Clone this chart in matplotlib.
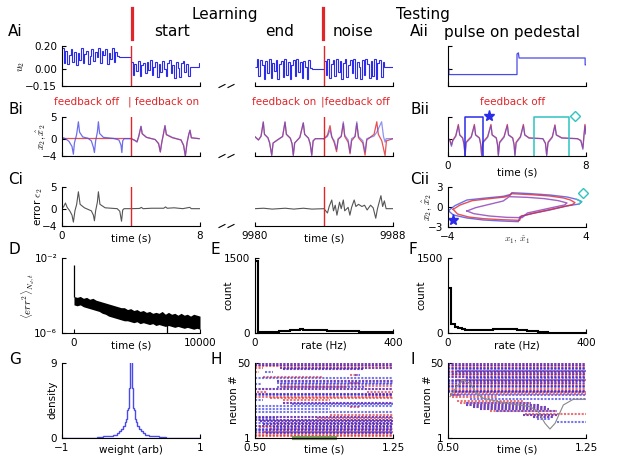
import numpy as np
import matplotlib
matplotlib.use("Agg")
import matplotlib.pyplot as plt
from matplotlib.lines import Line2D

plt.rcParams["font.family"] = "DejaVu Sans"
plt.rcParams["mathtext.fontset"] = "cm"

W, H = 617, 462
RED = "#e0262a"
BLUE = "#2b2be8"
LBLUE = "#4a4ae8"
CYAN = "#2ec4c0"
GRAY = "#555555"

# ---------------- data ----------------
# Ai: control input u2, piecewise constant noise (dt = 0.1 s)
NOISE_DT = 0.1
ai_start_fboff = [0.18, 0.05, 0.16, 0.04, 0.12, 0.17, 0.06, 0.15, 0.03, 0.14, 0.08,
                  0.18, 0.05, 0.13, 0.16, 0.04, 0.11, 0.17, 0.07, 0.15, 0.10, 0.18,
                  0.05, 0.16, 0.12, 0.17, 0.04, 0.14, 0.09, 0.18, 0.06, 0.15, 0.11]
ai_start_fbon = [0.06, -0.05, 0.04, -0.02, 0.07, -0.06, 0.03, 0.05, -0.04, 0.06, -0.01,
                 0.08, -0.05, 0.02, 0.06, -0.07, 0.04, -0.03, 0.07, 0.00, -0.06, 0.05,
                 0.08, -0.04, 0.03, -0.08, 0.06, 0.01, -0.07, 0.05, 0.07, -0.03, 0.04,
                 -0.06, 0.02]
ai_end_fbon = [0.02, 0.09, -0.06, 0.08, 0.03, -0.09, 0.07, -0.04, 0.09, -0.08, 0.05,
               -0.02, 0.08, -0.09, 0.04, 0.07, -0.07, 0.09, -0.05, 0.06, -0.09, 0.03,
               0.08, -0.06, 0.09, -0.03, 0.06, -0.08, 0.07, 0.02, -0.09, 0.08, 0.01]
ai_end_noise = [0.07, -0.05, 0.09, -0.08, 0.04, 0.08, -0.06, 0.09, -0.03, 0.07, -0.09,
                0.05, 0.09, -0.07, 0.03, 0.08, -0.04, 0.09, -0.08, 0.06, 0.02, -0.09,
                0.08, -0.05, 0.09, 0.04, -0.08, 0.07, -0.06, 0.09, -0.09, 0.05, 0.08,
                -0.07, 0.06]

# Bi: x2 (blue) and network estimate (red), keypoints
bi_off_t = [0, 0.2, 0.4, 0.58, 0.66, 0.72, 0.85, 0.95, 1.02, 1.2, 1.5, 1.7, 1.82, 1.88,
            1.95, 2.05, 2.11, 2.18, 2.4, 3.0, 3.3, 3.42, 3.47, 3.52, 3.6, 4.0]
bi_off_x2 = [0.3, 0.0, -0.6, -1.8, -3.6, -1.0, 1.0, 3.9, 1.5, 0.4, 0.1, -0.5, -2.0, -3.2,
             -0.5, 1.5, 3.9, 1.2, 0.3, 0.05, -0.3, -1.5, -3.2, -0.5, 0.0, 0.0]
bi_off_hat_t = [0, 4.0]
bi_off_hat = [0.1, 0.1]
bi_on_t = [4.0, 4.2, 4.35, 4.45, 4.58, 4.65, 4.9, 5.4, 5.6, 5.7, 5.78, 5.88, 5.97, 6.05,
           6.4, 6.9, 7.05, 7.15, 7.25, 7.35, 7.42, 7.5, 7.95]
bi_on_x2 = [0.0, -0.4, -0.8, 0.5, 2.9, 1.2, 0.3, -0.2, -1.2, -3.0, -1.0, 1.0, 3.0, 1.0,
            0.3, -0.3, -1.5, -4.1, -1.0, 1.0, 2.0, 0.2, 0.0]
bi_on_hat = [0.0, -0.3, -0.7, 0.6, 2.8, 1.1, 0.3, -0.2, -1.1, -3.1, -0.9, 1.1, 3.0, 0.9,
             0.2, -0.3, -1.6, -4.0, -0.9, 1.0, 1.9, 0.2, 0.0]
bi_end_t = [9980.0, 9980.2, 9980.35, 9980.48, 9980.55, 9980.75, 9980.85, 9980.97,
            9981.05, 9981.3, 9981.6, 9981.74, 9981.82, 9982.05, 9982.15, 9982.22,
            9982.3, 9982.6, 9982.8, 9982.88, 9983.1, 9983.2, 9983.29, 9983.37, 9983.5,
            9984.0]
bi_end_x2 = [0.5, -0.3, 0.5, 3.9, 1.0, 0.2, -1.0, -3.9, -1.0, -0.3, 0.5, 3.9, 1.0, 0.1,
             -1.2, -3.9, -1.0, 0.3, 3.7, 1.0, 0.1, -1.2, -3.9, -0.5, 0.0, 0.0]
bi_end_hat = [0.4, -0.3, 0.6, 3.8, 1.0, 0.2, -1.0, -3.8, -1.0, -0.3, 0.5, 3.8, 1.0, 0.1,
              -1.2, -3.8, -1.0, 0.3, 3.6, 1.0, 0.1, -1.2, -3.8, -0.5, 0.0, 0.0]
bi_noise_t = [9984.0, 9984.2, 9984.35, 9984.45, 9984.6, 9984.73, 9984.82, 9985.0,
              9985.12, 9985.2, 9985.4, 9985.51, 9985.6, 9985.8, 9985.9, 9986.0, 9986.25,
              9986.38, 9986.48, 9986.9, 9987.06, 9987.34, 9987.45, 9987.54, 9987.6, 9988.0]
bi_noise_x2 = [0.0, 0.5, 2.0, 0.3, -0.5, -2.5, 0.0, 0.6, 3.9, 0.8, -0.3, -3.2, 0.0, 0.5,
               3.9, 0.5, -0.5, -3.0, 0.0, 0.6, 1.5, 3.9, 0.5, -0.8, 0.0, 0.0]
bi_noise_hat_t = [9984.0, 9984.2, 9984.35, 9984.45, 9984.6, 9984.73, 9984.82, 9985.0,
                  9985.12, 9985.2, 9985.4, 9985.51, 9985.6, 9985.8, 9985.9, 9986.0,
                  9986.25, 9986.38, 9986.48, 9986.9, 9987.06, 9987.15, 9987.35, 9987.54,
                  9987.62, 9988.0]
bi_noise_hat = [0.0, 0.8, 3.0, 0.5, -1.0, -3.0, -0.2, 0.5, 3.5, 0.5, -0.8, -3.5, -0.5,
                0.5, 3.5, 0.2, -1.0, -3.8, -0.3, 1.0, 3.9, 1.0, -0.5, -3.9, -0.5, 0.0]

# Ci: error e2
ci_start_t = [0, 0.1, 0.2, 0.3, 0.45, 0.58, 0.66, 0.75, 0.85, 0.95, 1.05, 1.3, 1.7, 1.82,
              1.88, 1.95, 2.05, 2.11, 2.2, 2.5, 3.2, 3.35, 3.45, 3.52, 3.6, 4.0, 4.5, 4.6,
              4.7, 5.2, 5.9, 6.0, 6.1, 6.5, 7.0, 7.4, 7.5, 8.0]
ci_start_e = [0, 0.5, 1.3, 0.3, -0.5, -1.5, -3.1, -0.5, 1.0, 3.9, 1.0, 0.2, -0.5, -1.5,
              -2.8, -0.5, 1.5, 3.9, 1.0, 0.2, 0.0, -0.6, -2.9, -0.3, 0, 0, 0.05, 0.3, 0,
              0.1, 0.1, 0.4, 0.1, 0.2, 0.0, 0.3, 0.0, 0.0]
ci_end_t = [9980.0, 9980.5, 9981.0, 9981.75, 9982.25, 9982.8, 9983.3, 9984.0, 9984.2,
            9984.3, 9984.45, 9984.55, 9984.65, 9984.75, 9984.9, 9985.0, 9985.12, 9985.2,
            9985.4, 9985.5, 9985.6, 9985.75, 9985.85, 9986.0, 9986.2, 9986.35, 9986.5,
            9986.7, 9986.85, 9987.0, 9987.1, 9987.3, 9987.4, 9987.5, 9987.6, 9988.0]
ci_end_e = [0.0, 0.1, -0.1, 0.1, -0.1, 0.1, -0.1, 0.0, -1.0, 0.5, 2.0, -0.5, 0.8, -1.5,
            1.5, 0.0, 2.0, -0.5, 0.3, -1.5, 0.3, 2.0, 0.5, 1.0, 0.5, 0.8, -0.3, 0.8, 0.2,
            -2.2, 0.0, 3.0, 0.5, 1.8, 0.0, 0.0]

# Aii: pulse on pedestal
aii_t = [0, 0.05, 0.05, 4.0, 4.0, 4.08, 4.12, 7.95, 7.95, 8.0]
aii_u = [0.0, 0.0, -0.05, -0.05, 0.13, 0.14, 0.095, 0.095, 0.035, 0.035]

# Bii
bii_t = [0, 0.1, 0.2, 0.28, 0.45, 0.6, 0.68, 0.85, 0.93, 0.99, 1.05, 1.35, 1.53, 1.6,
         1.82, 1.9, 1.95, 2.02, 2.3, 2.49, 2.56, 2.8, 2.87, 2.92, 2.99, 3.25, 3.44, 3.51,
         3.75, 3.83, 3.88, 3.95, 4.2, 4.37, 4.45, 4.7, 5.5, 5.65, 5.72, 5.8, 6.05, 6.2,
         6.28, 6.6, 7.5, 7.7, 7.82, 7.88, 7.94, 8.0]
bii_x2 = [0, -0.3, -1.8, -0.5, 0.5, 3.0, 0.8, 0.1, -1.5, -4.0, -1.0, 0.3, 3.0, 0.8, 0.1,
          -1.5, -4.0, -1.0, 0.3, 3.0, 0.8, 0.1, -1.5, -4.0, -1.0, 0.3, 3.0, 0.8, 0.1,
          -1.5, -4.0, -1.0, 0.3, 3.0, 0.8, 0.1, 0.0, -1.2, -3.9, -1.0, 0.3, 3.0, 0.8, 0.1,
          0.0, -0.5, -2.5, 0.5, 3.0, 1.0]
bii_hat = [0, -0.2, -1.5, -0.3, 0.7, 3.3, 0.9, 0.2, -1.3, -3.8, -0.8, 0.5, 3.3, 0.9, 0.2,
           -1.3, -3.8, -0.8, 0.5, 3.3, 0.9, 0.2, -1.3, -3.8, -0.8, 0.5, 3.3, 0.9, 0.2,
           -1.3, -3.8, -0.8, 0.5, 3.3, 0.9, 0.2, 0.0, -1.0, -3.8, -0.8, 0.5, 3.2, 0.9, 0.2,
           0.0, -0.4, -2.2, 0.7, 3.3, 1.2]
pulse_blue_t = [1.0, 1.0, 2.0, 2.0]
pulse_cyan_t = [5.0, 5.0, 7.0, 7.0]
pulse_y = [-4, 5, 5, -4]
star_pt = (2.4, 5.3)
diamond_pt = (7.35, 5.2)

# Cii: phase plane loops
cii_outer_x1 = [-3.98, -3.6, -2.9, -1.8, -0.8, -0.35, -0.3, 0.8, 1.9, 2.9, 3.46, 3.75,
                3.6, 2.88, 1.9, 0.95, 0.17, 0.08, -0.9, -1.95, -2.9, -3.69, -3.98]
cii_outer_x2 = [-0.55, 0.2, 1.05, 1.35, 1.6, 1.9, 2.15, 2.0, 1.8, 1.5, 1.15, 0.8, 0.45,
                0.15, -0.45, -0.95, -1.45, -2.2, -2.1, -1.95, -1.65, -1.2, -0.55]
cii_red_x1 = [-3.7, -3.3, -2.6, -1.6, -0.7, -0.4, -0.35, 0.8, 1.9, 2.7, 3.1, 3.36, 3.2,
              2.6, 1.7, 0.9, 0.25, 0.15, -0.9, -1.95, -2.8, -3.45, -3.7]
cii_red_x2 = [-0.35, 0.3, 0.95, 1.25, 1.5, 1.75, 2.0, 1.85, 1.65, 1.35, 1.05, 0.65, 0.35,
              0.0, -0.5, -0.95, -1.35, -2.0, -1.9, -1.75, -1.5, -1.05, -0.35]
cii_inner_x1 = [-2.9, -2.4, -1.6, -0.8, -0.45, 0.6, 1.6, 2.4, 2.9, 2.75, 2.2, 1.4, 0.6,
                0.3, -0.6, -1.6, -2.5, -2.9]
cii_inner_x2 = [-0.6, -0.1, 0.4, 0.9, 1.55, 1.45, 1.25, 0.95, 0.6, 0.3, 0.0, -0.45, -0.9,
                -1.6, -1.55, -1.35, -1.0, -0.6]
cii_cyan_x1 = [3.46, 3.75, 3.6]
cii_cyan_x2 = [1.15, 0.8, 0.45]
cii_star = (-3.7, -1.95)
cii_diamond = (3.85, 2.1)

# D: mean squared error (log10) during learning, envelope of the noisy trace
d_t = np.linspace(0, 10000, 41)
d_upper = [-4.05, -4.1, -4.05, -4.15, -4.1, -4.2, -4.15, -4.25, -4.3, -4.35, -4.4, -4.45,
           -4.5, -4.55, -4.6, -4.65, -4.65, -4.75, -4.7, -4.8, -4.75, -4.85, -4.8, -4.9,
           -4.85, -4.95, -4.9, -4.95, -4.85, -5.0, -4.9, -5.0, -4.95, -5.05, -4.95, -5.05,
           -5.0, -5.1, -5.0, -5.05, -5.1]
d_lower = [-4.5, -4.55, -4.5, -4.6, -4.65, -4.7, -4.75, -4.8, -4.85, -4.95, -5.0, -5.1,
           -5.15, -5.2, -5.25, -5.3, -5.35, -5.35, -5.4, -5.45, -5.4, -5.5, -5.45, -5.5,
           -5.55, -5.5, -5.6, -5.55, -5.6, -5.65, -5.6, -5.65, -5.7, -5.65, -5.7, -5.75,
           -5.7, -5.75, -5.8, -5.75, -5.8]
d_spike_t = [0, 7350]
d_spike_lo = [-4.1, -6.0]
d_spike_hi = [-2.37, -5.3]

# E, F: firing-rate histograms (10 Hz bins)
rate_edges = np.linspace(0, 400, 41)
e_counts = [1440, 20, 15, 15, 18, 22, 28, 35, 42, 50, 58, 65, 70, 72, 70, 68, 65, 62, 58,
            55, 52, 50, 48, 45, 43, 40, 38, 36, 34, 32, 30, 28, 26, 24, 22, 20, 18, 16,
            14, 12]
f_counts = [893, 173, 127, 93, 73, 62, 55, 52, 55, 58, 62, 66, 70, 74, 78, 82, 84, 82, 78,
            74, 70, 64, 56, 48, 40, 32, 25, 18, 12, 8, 5, 3, 2, 1, 0, 0, 0, 0, 0, 0]

# G: weight distribution
g_edges = [-1.0, -0.8, -0.6, -0.5, -0.4, -0.32, -0.26, -0.21, -0.17, -0.14, -0.11, -0.09,
           -0.07, -0.055, -0.04, -0.025, -0.015, 0.015, 0.025, 0.04, 0.055, 0.07, 0.09,
           0.11, 0.14, 0.17, 0.21, 0.26, 0.32, 0.4, 0.5, 0.6, 0.8, 1.0]
g_density = [0.01, 0.03, 0.06, 0.12, 0.2, 0.3, 0.42, 0.6, 0.8, 1.05, 1.4, 1.9, 2.3, 3.4,
             3.6, 6.0, 10.0, 6.0, 3.6, 3.4, 2.3, 1.9, 1.4, 1.05, 0.8, 0.6, 0.42, 0.3, 0.2,
             0.12, 0.06, 0.03, 0.01]

# H, I: spike rasters, rows of (neuron, t_start, t_end)
h_red = [(50, 0.5, 1.25), (49, 0.5, 1.25), (48, 0.5, 1.25), (47, 0.5, 0.545),
         (47, 0.636, 1.25), (46, 0.654, 1.09), (44, 0.5, 0.52), (42, 1.016, 1.062),
         (41, 0.545, 0.871), (38, 0.618, 1.25), (37, 1.016, 1.071), (35, 0.636, 1.25),
         (34, 0.65, 1.0), (33, 0.5, 1.25), (31, 0.509, 0.563), (31, 1.107, 1.25),
         (30, 0.5, 1.25), (29, 1.1, 1.25), (28, 0.5, 1.25), (27, 0.581, 1.25),
         (26, 0.654, 0.908), (24, 0.654, 1.25), (21, 1.016, 1.071), (16, 0.908, 1.25),
         (15, 0.5, 1.25), (14, 0.835, 1.25), (13, 0.5, 1.25), (12, 0.527, 1.25),
         (11, 0.6, 1.25), (10, 0.545, 1.25), (9, 0.5, 1.25), (8, 0.52, 1.25),
         (7, 0.581, 1.25), (6, 0.5, 1.25), (5, 0.55, 1.25), (4, 0.5, 1.25),
         (3, 0.5, 1.25), (2, 0.5, 1.25)]
h_blue = [(50, 0.5, 1.25), (49, 0.5, 1.25), (47, 0.636, 1.25), (46, 0.654, 1.09),
          (44, 0.554, 0.6), (42, 1.043, 1.071), (40, 0.5, 1.25), (38, 0.618, 1.25),
          (37, 0.62, 1.25), (36, 0.5, 0.536), (36, 0.636, 1.25), (34, 0.62, 1.1),
          (33, 0.5, 1.25), (30, 0.5, 1.25), (29, 0.5, 1.25), (26, 0.5, 0.545),
          (24, 0.654, 1.25), (23, 0.7, 1.25), (22, 0.5, 1.25), (20, 0.5, 0.908),
          (18, 0.5, 1.25), (15, 0.5, 1.25), (14, 0.5, 0.618), (13, 0.5, 1.25),
          (12, 0.527, 1.25), (11, 0.5, 1.25), (10, 0.545, 1.25), (9, 0.5, 1.25),
          (8, 0.6, 1.25), (7, 0.5, 1.25), (6, 0.5, 1.25), (5, 0.5, 1.25), (4, 0.56, 1.25)]
h_stim = (0.70, 0.947)
i_red = [(50, 0.5, 1.25), (49, 0.5, 1.25), (48, 0.5, 1.25), (47, 0.5, 1.25),
         (45, 0.5, 1.25), (44, 0.5, 1.25), (43, 0.52, 1.25), (42, 0.5, 1.25),
         (41, 0.5, 1.25), (39, 0.55, 1.25), (38, 0.5, 1.25), (37, 0.56, 1.2),
         (36, 0.5, 1.25), (35, 0.5, 1.25), (33, 0.5, 1.25), (32, 0.5, 1.25),
         (31, 0.53, 1.25), (30, 0.511, 1.25), (29, 0.511, 0.565), (28, 0.52, 0.764),
         (25, 0.547, 0.909), (24, 0.565, 0.95), (22.5, 0.6, 0.999), (21, 0.638, 1.036),
         (20, 0.674, 1.05), (18.5, 0.728, 1.09), (17, 0.92, 1.253), (16, 0.909, 1.09),
         (14.5, 0.964, 1.072)]
i_blue = [(50, 0.5, 1.25), (49, 0.5, 1.25), (47, 0.5, 1.25), (46, 0.5, 1.25),
          (45, 0.55, 1.25), (44, 0.5, 1.25), (43, 0.5, 1.25), (41, 0.5, 1.25),
          (40, 0.6, 1.25), (39, 0.5, 1.25), (38, 0.5, 1.25), (37, 0.5, 1.25),
          (35, 0.5, 1.25), (34, 0.5, 1.25), (32, 0.5, 1.25), (31, 0.5, 1.25),
          (29, 0.52, 1.25), (26.5, 0.62, 1.25), (24, 0.6, 0.95), (22.5, 0.6, 0.999),
          (21, 0.638, 1.036), (20, 0.674, 1.05), (18.5, 0.76, 1.09), (16, 0.909, 1.09),
          (14.5, 0.964, 1.072), (13.5, 0.982, 1.06), (11.5, 1.09, 1.253)]
i_curve_t = [0.511, 0.547, 0.583, 0.62, 0.656, 0.692, 0.82, 0.946, 0.99, 1.027, 1.054,
             1.082, 1.127, 1.181, 1.254]
i_curve_n = [28.0, 34.5, 38.9, 36.7, 30.2, 26.9, 23.7, 21.5, 18.2, 10.6, 6.9, 10.6, 22.6,
             26.3, 26.3]

# ---------------- figure ----------------
fig = plt.figure(figsize=(W / 100, H / 100), dpi=100)


def axes_px(x0, y0, x1, y1):
    return fig.add_axes([x0 / W, 1 - y1 / H, (x1 - x0) / W, (y1 - y0) / H])


def text_px(x, y, s, **kw):
    kw.setdefault("ha", "center")
    kw.setdefault("va", "center")
    fig.text(x / W, 1 - y / H, s, **kw)


def line_px(xs, ys, **kw):
    fig.add_artist(Line2D([x / W for x in xs], [1 - y / H for y in ys], **kw))


def style(ax, left=True, xlabels=True):
    ax.spines["top"].set_visible(False)
    ax.spines["right"].set_visible(False)
    for s in ("left", "bottom"):
        ax.spines[s].set_linewidth(0.8)
    ax.tick_params(direction="in", length=3, width=0.8, labelsize=7.5, pad=3.5)
    ax.tick_params(which="minor", direction="in", length=1.8, width=0.6)
    if not left:
        ax.spines["left"].set_visible(False)
        ax.tick_params(axis="y", which="both", left=False, labelleft=False)
    if not xlabels:
        ax.tick_params(axis="x", labelbottom=False)
    ax.patch.set_alpha(0)


def noise_stairs(ax, t0, noise, holds, **kw):
    vals = list(noise) + [v for v, _ in holds]
    edges = np.append(t0 + NOISE_DT * np.arange(len(noise) + 1), [e for _, e in holds])
    ax.stairs(vals, edges, baseline=None, **kw)


def raster(ax, rows, color):
    ax.hlines([r[0] for r in rows], [r[1] for r in rows], [r[2] for r in rows],
              colors=color, linestyles=(0, (1, 0.7)), lw=1.5, alpha=0.65)


# --- row A ---
ax = axes_px(62, 46, 200, 86)
style(ax, xlabels=False)
noise_stairs(ax, 0.0, ai_start_fboff, [(0.10, 4.0)], color=BLUE, lw=0.8)
noise_stairs(ax, 4.0, ai_start_fbon, [(0.02, 7.95), (0.05, 8.0)], color=BLUE, lw=0.8)
ax.axvline(4, color=RED, lw=1)
ax.set_xlim(0, 8)
ax.set_ylim(-0.15, 0.2)
ax.set_xticks([0, 8])
ax.set_yticks([0.2, 0, -0.15], ["0.20", "0.00", "\u22120.15"])

ax = axes_px(255, 46, 393, 86)
style(ax, left=False, xlabels=False)
noise_stairs(ax, 9980.0, ai_end_fbon, [(0.0, 9984.0)], color=BLUE, lw=0.8)
noise_stairs(ax, 9984.0, ai_end_noise, [(0.02, 9988.0)], color=BLUE, lw=0.8)
ax.axvline(9984, color=RED, lw=1)
ax.set_xlim(9980, 9988)
ax.set_ylim(-0.15, 0.2)
ax.set_xticks([9980, 9988])

ax = axes_px(448, 46, 586, 86)
style(ax, xlabels=False)
ax.plot(aii_t, aii_u, color=LBLUE, lw=0.9)
ax.set_xlim(0, 8)
ax.set_ylim(-0.15, 0.2)
ax.set_xticks([0, 8])
ax.set_yticks([0.2, 0], ["", ""])

# --- row B ---
ax = axes_px(62, 117, 200, 156)
style(ax, xlabels=False)
ax.plot(bi_off_hat_t, bi_off_hat, color=RED, lw=0.9, alpha=0.8)
ax.plot(bi_off_t, bi_off_x2, color=LBLUE, lw=0.9, alpha=0.8)
ax.plot(bi_on_t, bi_on_hat, color=RED, lw=0.9, alpha=0.8)
ax.plot(bi_on_t, bi_on_x2, color=LBLUE, lw=0.9, alpha=0.6)
ax.axvline(4, color=RED, lw=1)
ax.set_xlim(0, 8)
ax.set_ylim(-4, 5)
ax.set_xticks([0, 8])
ax.set_yticks([5, 0, -4])

ax = axes_px(255, 117, 393, 156)
style(ax, left=False, xlabels=False)
ax.plot(bi_end_t, bi_end_hat, color=RED, lw=0.9, alpha=0.8)
ax.plot(bi_end_t, bi_end_x2, color=LBLUE, lw=0.9, alpha=0.6)
ax.plot(bi_noise_hat_t, bi_noise_hat, color=RED, lw=0.9, alpha=0.8)
ax.plot(bi_noise_t, bi_noise_x2, color=LBLUE, lw=0.9, alpha=0.6)
ax.axvline(9984, color=RED, lw=1)
ax.set_xlim(9980, 9988)
ax.set_ylim(-4, 5)
ax.set_xticks([9980, 9988])

ax = axes_px(448, 117, 586, 156)
style(ax)
ax.plot(bii_t, bii_hat, color=RED, lw=0.9, alpha=0.8)
ax.plot(bii_t, bii_x2, color=LBLUE, lw=0.9, alpha=0.6)
ax.plot(pulse_blue_t, pulse_y, color=BLUE, lw=1.1, clip_on=False)
ax.plot(pulse_cyan_t, pulse_y, color=CYAN, lw=1.1, clip_on=False)
ax.plot(*star_pt, marker="*", color=BLUE, ms=8, clip_on=False)
ax.plot(*diamond_pt, marker="D", mfc="none", mec=CYAN, ms=5, mew=1, clip_on=False)
ax.set_xlim(0, 8)
ax.set_ylim(-4, 5)
ax.set_xticks([0, 8])
ax.set_yticks([5, 0], ["", ""])

# --- row C ---
ax = axes_px(62, 187, 200, 226)
style(ax)
ax.plot(ci_start_t, ci_start_e, color=GRAY, lw=0.8)
ax.axvline(4, color=RED, lw=1)
ax.set_xlim(0, 8)
ax.set_ylim(-4, 5)
ax.set_xticks([0, 8])
ax.set_yticks([5, 0, -4])

ax = axes_px(255, 187, 393, 226)
style(ax, left=False)
ax.plot(ci_end_t, ci_end_e, color=GRAY, lw=0.8)
ax.axvline(9984, color=RED, lw=1)
ax.set_xlim(9980, 9988)
ax.set_ylim(-4, 5)
ax.set_xticks([9980, 9988])

ax = axes_px(448, 187, 586, 227)
style(ax)
ax.plot(cii_outer_x1, cii_outer_x2, color=LBLUE, lw=1.0, alpha=0.8)
ax.plot(cii_red_x1, cii_red_x2, color=RED, lw=1.0, alpha=0.8)
ax.plot(cii_inner_x1, cii_inner_x2, color="#8a3ab8", lw=1.0, alpha=0.8)
ax.plot(cii_cyan_x1, cii_cyan_x2, color=CYAN, lw=1.0)
ax.plot(*cii_star, marker="*", color=BLUE, ms=8, clip_on=False)
ax.plot(*cii_diamond, marker="D", mfc="none", mec=CYAN, ms=5, mew=1, clip_on=False)
ax.set_xlim(-4, 4)
ax.set_ylim(-3, 3)
ax.set_xticks([-4, 4])
ax.set_yticks([3, 0, -3])

# --- row D/E/F ---
ax = axes_px(62, 258, 200, 333)
style(ax)
ax.set_yscale("log")
ax.fill_between(d_t, 10.0 ** np.array(d_upper), 10.0 ** np.array(d_lower),
                color="k", lw=0)
ax.vlines(d_spike_t, 10.0 ** np.array(d_spike_lo), 10.0 ** np.array(d_spike_hi),
          color="k", lw=0.9)
ax.set_xlim(-950, 10000)
ax.set_ylim(1e-6, 1e-2)
ax.set_xticks([0, 10000])
ax.set_yticks([1e-2, 1e-6], ["10\u207b\u00b2", "10\u207b\u2076"])

for x0, counts in ((255, e_counts), (448, f_counts)):
    ax = axes_px(x0, 258, x0 + 138, 333)
    style(ax)
    ax.stairs(counts, rate_edges, color="k", lw=1.5)
    ax.set_xlim(0, 400)
    ax.set_ylim(0, 1500)
    ax.set_xticks([0, 400])
    ax.set_yticks([1500, 0])

# --- row G/H/I ---
ax = axes_px(62, 363, 200, 438)
style(ax)
ax.stairs(g_density, g_edges, color=LBLUE, lw=1.0)
ax.set_xlim(-1, 1)
ax.set_ylim(0, 9)
ax.set_xticks([-1, 1])
ax.set_yticks([9, 0])

ax = axes_px(255, 363, 393, 438)
style(ax)
raster(ax, h_red, RED)
raster(ax, h_blue, BLUE)
ax.plot(h_stim, [1, 1], color="#7d9b5d", lw=3, solid_capstyle="butt", clip_on=False)
ax.set_xlim(0.5, 1.25)
ax.set_ylim(1, 50)
ax.set_xticks([0.5, 1.25], ["0.50", "1.25"])
ax.set_yticks([50, 1])

ax = axes_px(448, 363, 586, 438)
style(ax)
raster(ax, i_red, RED)
raster(ax, i_blue, BLUE)
ax.plot(i_curve_t, i_curve_n, color="#888888", lw=0.8)
ax.set_xlim(0.5, 1.25)
ax.set_ylim(1, 50)
ax.set_xticks([0.5, 1.25], ["0.50", "1.25"])
ax.set_yticks([50, 1])

# ---------------- annotations ----------------
small = dict(fontsize=7.5)
for x, y, s in ((131, 239, "time (s)"), (324, 239, "time (s)"), (517, 173, "time (s)"),
                (131, 345, "time (s)"), (324, 345, "rate (Hz)"), (517, 345, "rate (Hz)"),
                (131, 450, "weight (arb)"), (324, 450, "time (s)"), (517, 450, "time (s)")):
    text_px(x, y, s, **small)
text_px(517, 240, r"$x_1,\,\hat{x}_1$", fontsize=7, color="#333333")

for x, y, s in ((22, 66, r"$u_2$"), (41, 137, r"$x_2,\hat{x}_2$"),
                (39, 207, r"error $\epsilon_2$"), (427, 207, r"$x_2,\,\hat{x}_2$"),
                (28, 296, r"$\langle err^2\rangle_{N_d,t}$"), (228, 295, "count"),
                (421, 295, "count"), (52, 400, "density"), (234, 400, "neuron #"),
                (428, 400, "neuron #")):
    text_px(x, y, s, rotation=90, **small)

for x, y, s in ((8, 32, "Ai"), (8, 110, "Bi"), (8, 180, "Ci"), (410, 32, "Aii"),
                (410, 110, "Bii"), (410, 180, "Cii"), (8, 250, "D"), (211, 250, "E"),
                (409, 249, "F"), (9, 359, "G"), (211, 359, "H"), (411, 359, "I")):
    text_px(x, y, s, ha="left", fontsize=11)

for x, y, s in ((225, 14, "Learning"), (423, 14, "Testing"), (172, 32, "start"),
                (280, 32, "end"), (353, 32, "noise"), (512, 32, "pulse on pedestal")):
    text_px(x, y, s, fontsize=11)

for x in (132, 323):
    line_px([x, x], [8, 39], color=RED, lw=2.3)

text_px(87, 102, "feedback off", color=RED, **small)
text_px(128, 102, "| feedback on", color=RED, ha="left", **small)
text_px(284, 102, "feedback on", color=RED, **small)
text_px(321, 102, "|feedback off", color=RED, ha="left", **small)
text_px(513, 102, "feedback off", color=RED, **small)

# axis-break marks between the start and end segments
for y in (86, 156, 226):
    for x0 in (219, 228):
        line_px([x0, x0 + 6], [y + 1.5, y - 1.5], color="k", lw=0.8)

fig.savefig("out.png", dpi=100)
